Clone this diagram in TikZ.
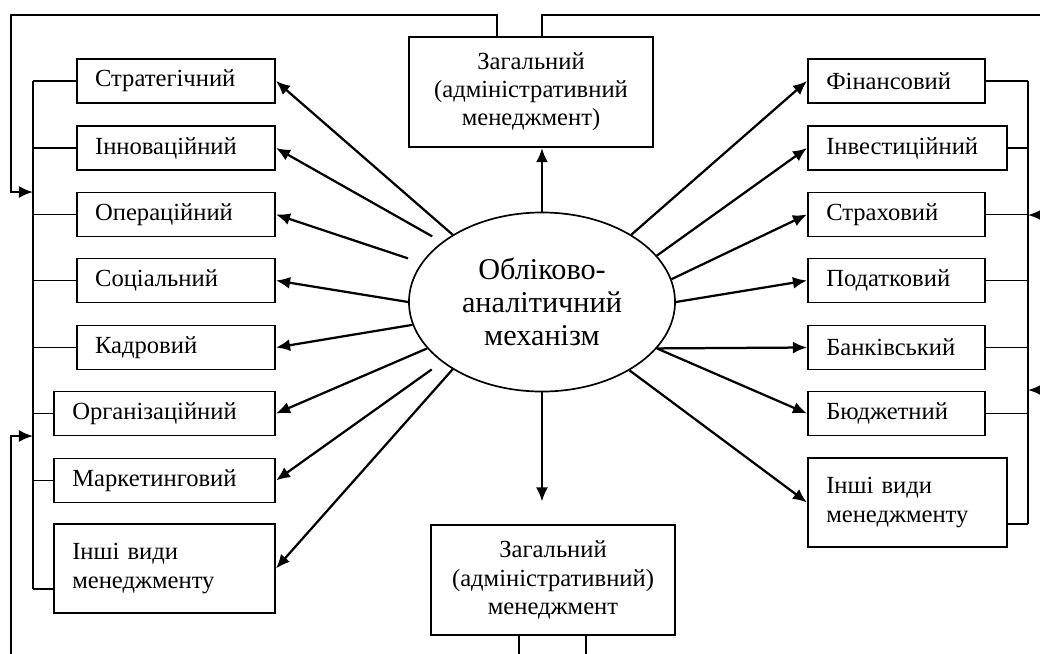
\documentclass[tikz,border=0pt]{standalone}
\usepackage{fontspec}
\setmainfont{Liberation Serif}
\usetikzlibrary{arrows.meta,shapes.geometric}

\tikzset{
    box/.style={draw, rectangle, line width=1.4pt, align=left, inner xsep=13pt, inner ysep=2pt,
        minimum height=1.1cm, font=\fontsize{17.5pt}{20pt}\selectfont},
    cbox/.style={draw, rectangle, line width=1.4pt, align=center, minimum width=6.1cm,
        minimum height=2.75cm, font=\fontsize{17.5pt}{20pt}\selectfont},
    arr/.style={-{Latex[length=10pt,width=8.5pt]}, line width=1.6pt},
    feed/.style={-{Latex[length=10pt,width=8.5pt]}, line width=1.4pt},
    bus/.style={line width=1.3pt},
}

\begin{document}
\begin{tikzpicture}[x=0.025cm, y=-0.025cm]
        \useasboundingbox (0,0) rectangle (1040,653);
        \clip (0,0) rectangle (1040,653);

        \node[draw, ellipse, line width=1.2pt, minimum width=6.65cm, minimum height=4.475cm, inner sep=0pt,
            align=center, font=\fontsize{21.5pt}{23.5pt}\selectfont] (mech) at (542,302) {Обліково-\\аналітичний\\механізм};

        \node[cbox] (gtop) at (531,92) {Загальний\\(адміністративний\\менеджмент)};
        \node[cbox] (gbot) at (553,580) {Загальний\\(адміністративний)\\менеджмент};

        % left side
        \node[box, anchor=east, text width=4.04cm] (strat) at (276,81) {Стратегічний};
        \node[box, anchor=east, text width=4.04cm] (innov) at (276,148) {Інноваційний};
        \node[box, anchor=east, text width=4.04cm] (oper) at (276,214.5) {Операційний};
        \node[box, anchor=east, text width=4.04cm] (soc) at (276,280.5) {Соціальний};
        \node[box, anchor=east, text width=4.04cm] (kadr) at (276,347.5) {Кадровий};
        \node[box, anchor=east, text width=4.61cm] (org) at (276,413.5) {Організаційний};
        \node[box, anchor=east, text width=4.61cm] (mark) at (276,480.5) {Маркетинговий};
        \node[box, anchor=east, text width=4.61cm, minimum height=2.225cm] (lothr) at (276,568.5) {Інші види\\менеджменту};

        % right side
        \node[box, anchor=west, text width=3.51cm] (fin) at (807,81) {Фінансовий};
        \node[box, anchor=west, text width=4.06cm] (invest) at (807,148) {Інвестиційний};
        \node[box, anchor=west, text width=3.51cm] (strakh) at (807,214.5) {Страховий};
        \node[box, anchor=west, text width=3.51cm] (podat) at (807,280.5) {Податковий};
        \node[box, anchor=west, text width=3.51cm] (bank) at (807,347.5) {Банківський};
        \node[box, anchor=west, text width=3.51cm] (budzh) at (807,413.5) {Бюджетний};
        \node[box, anchor=west, text width=4.06cm, minimum height=2.225cm] (rothr) at (807,502.5) {Інші види\\менеджменту};

        \draw[arr] (mech.north) -- (mech.north |- gtop.south);
        \draw[arr, shorten >=16pt] (mech.south) -- (mech.south |- gbot.north);

        \draw[arr] (mech.143) -- (strat.east);
        \draw[arr, shorten <=8pt] (mech.149) -- (innov.east);
        \draw[arr, shorten <=10pt] (mech.162) -- (oper.east);
        \draw[arr] (mech.180) -- (soc.east);
        \draw[arr] (mech.190) -- (kadr.east);
        \draw[arr] (mech.202) -- (org.east);
        \draw[arr, shorten <=9pt] (mech.211) -- (mark.east);
        \draw[arr] (mech.217) -- (lothr.east);

        \draw[arr] (mech.37) -- (fin.west);
        \draw[arr] (mech.22) -- (invest.west);
        \draw[arr] (mech.10) -- (strakh.west);
        \draw[arr] (mech.0) -- (podat.west);
        \draw[arr] (mech.338) -- (bank.west);
        \draw[arr] (mech.338) -- (budzh.west);
        \draw[arr] (mech.322) -- (rothr.west);

        % buses
        \coordinate (lbtop) at (33,81);
        \coordinate (lbbot) at (33,589);
        \draw[bus] (lbtop) -- (lbbot);
        \foreach \n in {strat,innov,oper,soc,kadr,org,mark}
            \draw[bus] (\n.west) -- (\n.west -| lbtop);
        \draw[bus] (lbbot) -- (lbbot -| lothr.west);

        \coordinate (rbtop) at (1028,81);
        \coordinate (rbbot) at (1028,524);
        \draw[bus] (rbtop) -- (rbbot);
        \foreach \n in {fin,invest,strakh,podat,bank,budzh}
            \draw[bus] (\n.east) -- (\n.east -| rbtop);
        \draw[bus] (rbbot) -- (rbbot -| rothr.east);

        % feedback lines
        \coordinate (gtopl) at (497,37);
        \coordinate (gtopr) at (542,37);
        \coordinate (gbotl) at (519,635);
        \coordinate (gbotr) at (586,635);
        \coordinate (ltc) at (11,15);
        \coordinate (rtc) at (1050,15);
        \coordinate (lbc) at (11,670);
        \coordinate (rbc) at (1050,670);
        \coordinate (lin1) at (33,192);
        \coordinate (lin2) at (33,436);
        \coordinate (rin1) at (1028,215);
        \coordinate (rin2) at (1028,390);

        \draw[feed] (gtopl) |- (ltc) |- (lin1);
        \draw[feed] (gtopr) |- (rtc) |- (rin1);
        \draw[feed] (gbotl) |- (lbc) |- (lin2);
        \draw[feed] (gbotr) |- (rbc) |- (rin2);
\end{tikzpicture}
\end{document}
